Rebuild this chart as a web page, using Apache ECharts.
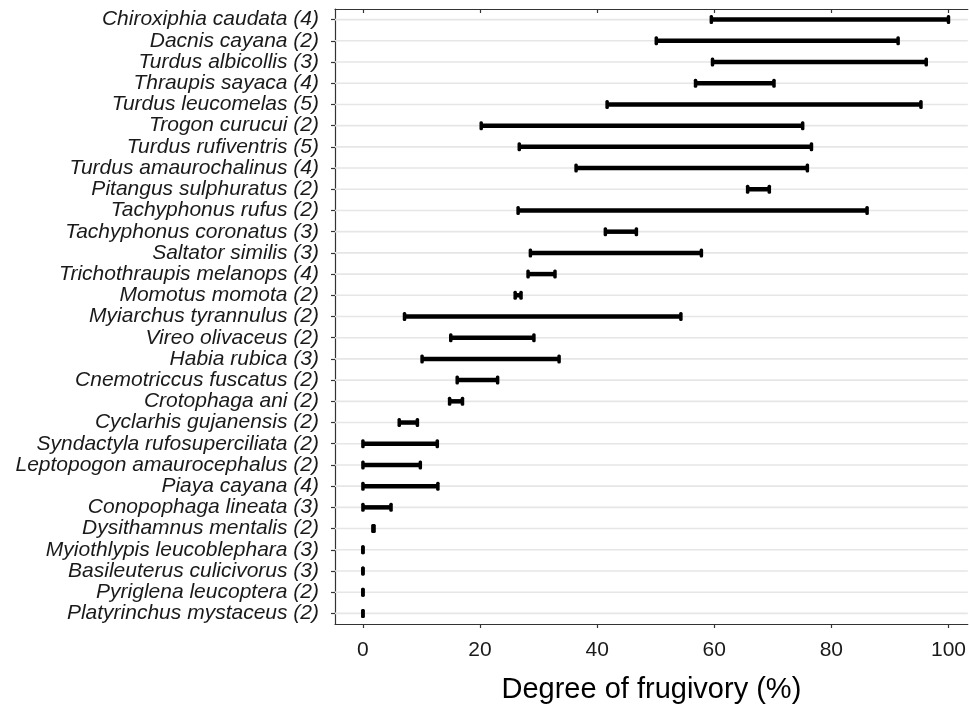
<!DOCTYPE html>
<html>
<head>
<meta charset="utf-8">
<script src="https://cdn.jsdelivr.net/npm/echarts@6/dist/echarts.min.js"></script>
<style>html,body{margin:0;padding:0;background:#fff}#c{width:969px;height:709px}</style>
</head>
<body>
<div id="c"></div>
<script>
const species = [
  "Chiroxiphia caudata (4)", "Dacnis cayana (2)", "Turdus albicollis (3)", "Thraupis sayaca (4)",
  "Turdus leucomelas (5)", "Trogon curucui (2)", "Turdus rufiventris (5)", "Turdus amaurochalinus (4)",
  "Pitangus sulphuratus (2)", "Tachyphonus rufus (2)", "Tachyphonus coronatus (3)", "Saltator similis (3)",
  "Trichothraupis melanops (4)", "Momotus momota (2)", "Myiarchus tyrannulus (2)", "Vireo olivaceus (2)",
  "Habia rubica (3)", "Cnemotriccus fuscatus (2)", "Crotophaga ani (2)", "Cyclarhis gujanensis (2)",
  "Syndactyla rufosuperciliata (2)", "Leptopogon amaurocephalus (2)", "Piaya cayana (4)", "Conopophaga lineata (3)",
  "Dysithamnus mentalis (2)", "Myiothlypis leucoblephara (3)", "Basileuterus culicivorus (3)", "Pyriglena leucoptera (2)",
  "Platyrinchus mystaceus (2)"
];
const minVals = [59.5, 50.1, 59.7, 56.8, 41.7, 20.2, 26.7, 36.4, 65.7, 26.5, 41.4, 28.6, 28.2, 26.0, 7.1, 15.0,
  10.1, 16.1, 14.8, 6.2, 0, 0, 0, 0, 1.7, 0, 0, 0, 0];
const maxVals = [100, 91.4, 96.2, 70.2, 95.3, 75.1, 76.6, 75.9, 69.4, 86.1, 46.7, 57.8, 32.8, 27.0, 54.3, 29.2,
  33.5, 23.0, 17.0, 9.3, 12.7, 9.8, 12.8, 4.8, 1.9, 0, 0, 0, 0];
const xTicks = [0, 20, 40, 60, 80, 100];

const rangeData = species.map((s, i) => [i, minVals[i], maxVals[i]]);
const gridData = species.map((s, i) => [i]);

const chart = echarts.init(document.getElementById('c'), null, {renderer: 'canvas'});
const FONT = 'Liberation Sans';
chart.setOption({
  animation: false,
  backgroundColor: '#ffffff',
  grid: {left: 335, right: 0, top: 9, bottom: 85, containLabel: false},
  xAxis: [{
    type: 'value', position: 'bottom', min: -4.77, max: 103.3,
    axisLine: {show: true, onZero: false, lineStyle: {color: '#333333', width: 1.2}},
    axisTick: {show: true, length: 4, customValues: xTicks, lineStyle: {color: '#333333', width: 1.2}},
    axisLabel: {customValues: xTicks, margin: 16, fontFamily: FONT, fontSize: 21, color: '#1a1a1a'},
    splitLine: {show: false},
    name: 'Degree of frugivory (%)', nameLocation: 'middle', nameGap: 51,
    nameTextStyle: {fontFamily: FONT, fontSize: 29, color: '#000000'}
  }, {
    type: 'value', position: 'top', min: -4.77, max: 103.3,
    axisLine: {show: true, onZero: false, lineStyle: {color: '#333333', width: 1.2}},
    axisTick: {show: true, inside: true, length: 4, customValues: xTicks, lineStyle: {color: '#333333', width: 1.2}},
    axisLabel: {show: false},
    splitLine: {show: false}
  }],
  yAxis: {
    type: 'category', data: species, inverse: true,
    axisLine: {show: true, onZero: false, lineStyle: {color: '#333333', width: 1.2}},
    axisTick: {show: true, alignWithLabel: true, interval: 0, length: 4, lineStyle: {color: '#333333', width: 1.2}},
    axisLabel: {interval: 0, margin: 16, fontFamily: FONT, fontStyle: 'italic', fontSize: 21, color: '#1a1a1a'},
    splitLine: {show: false}
  },
  series: [{
    type: 'custom', z: 1, silent: true,
    data: gridData,
    encode: {y: 0},
    renderItem: function (params, api) {
      const p = api.coord([0, api.value(0)]);
      const cs = params.coordSys;
      return {
        type: 'line',
        shape: {x1: cs.x, y1: p[1], x2: cs.x + cs.width, y2: p[1]},
        style: {stroke: '#e6e6e6', lineWidth: 1.6}
      };
    }
  }, {
    type: 'custom', z: 3, silent: true,
    data: rangeData,
    encode: {y: 0, x: [1, 2]},
    renderItem: function (params, api) {
      const a = api.coord([api.value(1), api.value(0)]);
      const b = api.coord([api.value(2), api.value(0)]);
      const capW = 3.5, capH = 9;
      return {
        type: 'group',
        children: [
          {type: 'line', shape: {x1: a[0], y1: a[1], x2: b[0], y2: b[1]}, style: {stroke: '#000', lineWidth: 4.5}},
          {type: 'rect', shape: {x: a[0] - capW / 2, y: a[1] - capH / 2, width: capW, height: capH, r: 1.5}, style: {fill: '#000'}},
          {type: 'rect', shape: {x: b[0] - capW / 2, y: b[1] - capH / 2, width: capW, height: capH, r: 1.5}, style: {fill: '#000'}}
        ]
      };
    }
  }]
});
</script>
</body>
</html>
